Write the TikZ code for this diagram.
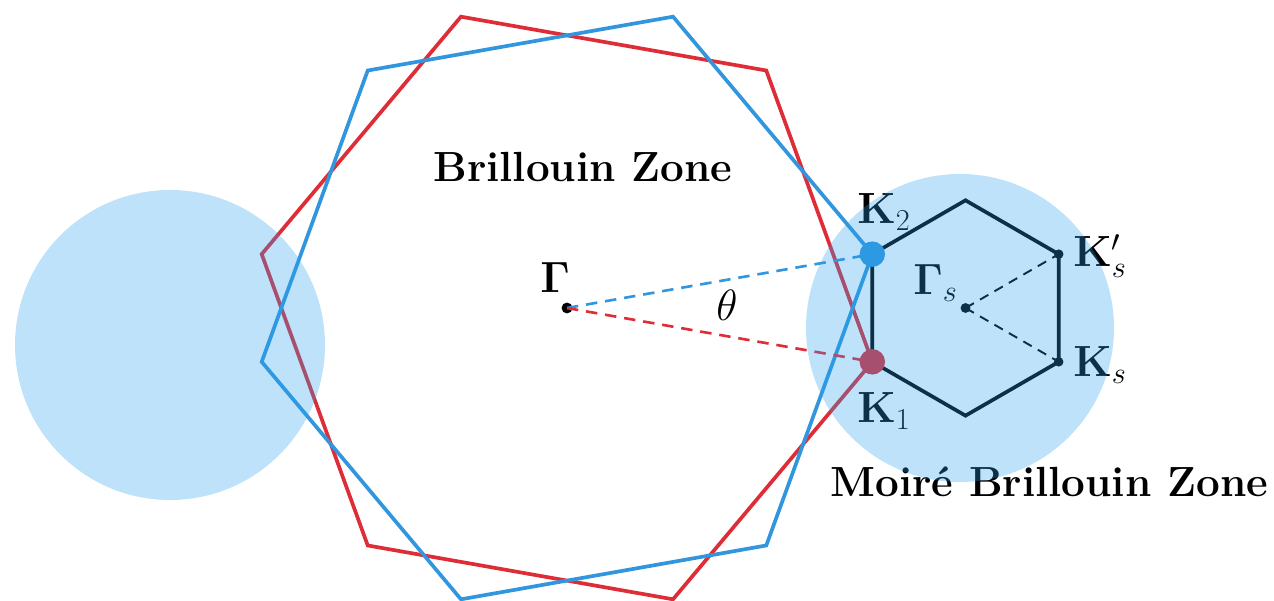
\documentclass[tikz,border=0pt]{standalone}
\usepackage{amsmath}
\usetikzlibrary{calc}
\definecolor{bzred}{RGB}{222,45,55}
\definecolor{bzblue}{RGB}{50,150,222}
\definecolor{circblue}{RGB}{40,160,240}
\begin{document}
\begin{tikzpicture}[x=0.02cm,y=0.02cm,
  hexline/.style={line width=2.1pt, line join=miter},
  mhexline/.style={line width=2.1pt, line join=miter, black},
  rayline/.style={line width=1.5pt, dash pattern=on 6.5pt off 4.5pt},
  sray/.style={line width=1.1pt, dash pattern=on 5.5pt off 4pt, black},
  blob/.style={circle, fill, inner sep=0pt, minimum size=#1},
  lbl/.style={font=\fontsize{24}{28}\selectfont, inner sep=0pt, anchor=base west},
  zone/.style={fill=circblue, fill opacity=0.3}]
\useasboundingbox (0,0) rectangle (1274,601);
\coordinate (G) at (567,293);
\coordinate (Gs) at ($(G)+(398.5,0)$);
\foreach \i in {0,...,5} {
  \coordinate (B\i) at ($(G)+({10+60*\i}:310)$);
  \coordinate (R\i) at ($(G)+({-10+60*\i}:310)$);
  \coordinate (M\i) at ($(Gs)+({30+60*\i}:107.66)$);
}
% large Brillouin zones
\draw[hexline, bzred] (R0) -- (R1) -- (R2) -- (R3) -- (R4) -- (R5) -- cycle;
\draw[hexline, bzblue] (B0) -- (B1) -- (B2) -- (B3) -- (B4) -- (B5) -- cycle;
% moire hexagon
\draw[mhexline] (M0) -- (M1) -- (M2) -- (M3) -- (M4) -- (M5) -- cycle;
% rays
\node[blob=6.2pt, fill=black] (Gam) at (G) {};
\node[blob=5.6pt, fill=black] (Gams) at (Gs) {};
\node[blob=5.4pt, fill=black] (Ksp) at (M0) {};
\node[blob=5.4pt, fill=black] (Ks) at (M5) {};
\draw[rayline, bzblue] (Gam.center) -- (B0);
\draw[rayline, bzred] (Gam.center) -- (R0);
\draw[sray] (Gams.center) -- (Ksp.center);
\draw[sray] (Gams.center) -- (Ks.center);
\node[blob=14.5pt, fill=bzblue] (K2) at (B0) {};
\node[blob=14.5pt, fill=bzred] (K1) at (R0) {};
% labels
\node[lbl] (lbz) at (433,419) {\textbf{Brillouin Zone}};
\node[lbl] (lmbz) at (830,104) {\textbf{Moiré Brillouin Zone}};
\node[lbl] (lG) at (540,308) {$\mathbf{\Gamma}$};
\node[lbl] (lth) at (716,280) {$\theta$};
\node[lbl] (lGs) at (913,306) {$\mathbf{\Gamma}_s$};
\node[lbl] (lK2) at (857,377) {$\mathbf{K}_2$};
\node[lbl] (lK1) at (857,178) {$\mathbf{K}_1$};
\node[lbl] (lKsp) at (1073,334) {$\mathbf{K}'_s$};
\node[lbl] (lKs) at (1073,224) {$\mathbf{K}_s$};
% translucent circles on top
\path[zone] (170,256) circle (155);
\path[zone] (960,273) circle (154);
\end{tikzpicture}
\end{document}
